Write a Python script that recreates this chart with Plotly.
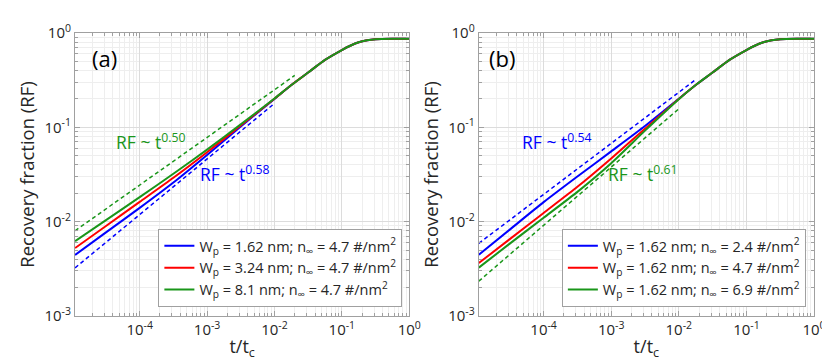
import plotly.graph_objects as go

# time grid (t/t_c) shared by all curves
t = [1.1e-5, 3.16e-5, 1e-4, 3.16e-4, 1e-3, 3.16e-3, 1e-2, 1.78e-2, 3.16e-2, 5.62e-2,
     0.1, 0.133, 0.178, 0.237, 0.316, 0.562, 1.0]

# panel (a): varying W_p
rf_a_blue = [0.00443, 0.00770, 0.0140, 0.0260, 0.0510, 0.1020, 0.200, 0.281, 0.381, 0.519,
             0.660, 0.733, 0.798, 0.836, 0.857, 0.867, 0.868]
rf_a_red = [0.00525, 0.00900, 0.0162, 0.0292, 0.0545, 0.1045, 0.201, 0.281, 0.381, 0.519,
            0.660, 0.733, 0.798, 0.836, 0.857, 0.867, 0.868]
rf_a_green = [0.00622, 0.0104, 0.0182, 0.0322, 0.0580, 0.1075, 0.202, 0.281, 0.381, 0.519,
              0.660, 0.733, 0.798, 0.836, 0.857, 0.867, 0.868]

# panel (b): varying n_inf
rf_b_blue = [0.00446, 0.00824, 0.0161, 0.0301, 0.0556, 0.1032, 0.201, 0.281, 0.381, 0.519,
             0.660, 0.733, 0.798, 0.836, 0.857, 0.867, 0.868]
rf_b_red = [0.00364, 0.00653, 0.01236, 0.0234, 0.0468, 0.0966, 0.200, 0.281, 0.381, 0.519,
            0.660, 0.733, 0.798, 0.836, 0.857, 0.867, 0.868]
rf_b_green = [0.00326, 0.00585, 0.0110, 0.0207, 0.0417, 0.0923, 0.199, 0.281, 0.381, 0.519,
              0.660, 0.733, 0.798, 0.836, 0.857, 0.867, 0.868]

# power-law fits (dashed)
fit_a_blue_t, fit_a_blue_rf = [1.1e-5, 9.5e-3], [0.00324, 0.174]
fit_a_green_t, fit_a_green_rf = [1.1e-5, 0.020], [0.00801, 0.355]
fit_b_blue_t, fit_b_blue_rf = [1.1e-5, 0.0182], [0.00589, 0.325]
fit_b_green_t, fit_b_green_rf = [1.1e-5, 0.0105], [0.00234, 0.162]

labels_a = ["W<sub>p</sub> = 1.62 nm; n<sub>∞</sub> = 4.7 #/nm<sup>2</sup>",
            "W<sub>p</sub> = 3.24 nm; n<sub>∞</sub> = 4.7 #/nm<sup>2</sup>",
            "W<sub>p</sub> = 8.1 nm; n<sub>∞</sub> = 4.7 #/nm<sup>2</sup>"]
labels_b = ["W<sub>p</sub> = 1.62 nm; n<sub>∞</sub> = 2.4 #/nm<sup>2</sup>",
            "W<sub>p</sub> = 1.62 nm; n<sub>∞</sub> = 4.7 #/nm<sup>2</sup>",
            "W<sub>p</sub> = 1.62 nm; n<sub>∞</sub> = 6.9 #/nm<sup>2</sup>"]

x_ticks = [1e-4, 1e-3, 1e-2, 1e-1, 1]
x_ticktext = ["10<sup>-4</sup>", "10<sup>-3</sup>", "10<sup>-2</sup>", "10<sup>-1</sup>", "10<sup>0</sup>"]
y_ticks = [1e-3, 1e-2, 1e-1, 1]
y_ticktext = ["10<sup>-3</sup>", "10<sup>-2</sup>", "10<sup>-1</sup>", "10<sup>0</sup>"]

BLUE, RED, GREEN = "#0000ff", "#ff0000", "#1a961a"
FONT = "Open Sans"

fig = go.Figure()

for xa, ya, leg, series, fits in [
    ("x", "y", "legend", [(rf_a_blue, BLUE, labels_a[0]), (rf_a_red, RED, labels_a[1]), (rf_a_green, GREEN, labels_a[2])],
     [(fit_a_blue_t, fit_a_blue_rf, BLUE), (fit_a_green_t, fit_a_green_rf, GREEN)]),
    ("x2", "y2", "legend2", [(rf_b_blue, BLUE, labels_b[0]), (rf_b_red, RED, labels_b[1]), (rf_b_green, GREEN, labels_b[2])],
     [(fit_b_blue_t, fit_b_blue_rf, BLUE), (fit_b_green_t, fit_b_green_rf, GREEN)]),
]:
    for ft, frf, c in fits:
        fig.add_trace(go.Scatter(x=ft, y=frf, mode="lines", xaxis=xa, yaxis=ya, showlegend=False,
                                 line=dict(color=c, width=1.5, dash="4px,3px")))
    for rf, c, name in series:
        fig.add_trace(go.Scatter(x=t, y=rf, mode="lines", xaxis=xa, yaxis=ya, name=name, legend=leg,
                                 line=dict(color=c, width=2, shape="spline", smoothing=0.6)))

minor_x = [m * 10 ** e for e in range(-5, 0) for m in range(2, 10)]
minor_y = [m * 10 ** e for e in range(-3, 0) for m in range(2, 10)]

axis_common = dict(type="log", showline=True, linecolor="#a0a0a0", linewidth=1, mirror="allticks",
                   ticks="inside", ticklen=5, tickcolor="#a0a0a0", showgrid=True, gridcolor="#dcdcdc",
                   zeroline=False, tickfont=dict(size=15, color="#262626", family=FONT),
                   tickmode="array")
minor_common = dict(showgrid=True, gridcolor="#eeeeee", ticks="inside", ticklen=3, tickcolor="#a0a0a0")

xdef = dict(axis_common, range=[-4.96, 0], tickvals=x_ticks, ticktext=x_ticktext,
            minor=dict(minor_common, tickvals=minor_x),
            title=dict(text="t/t<sub>c</sub>", font=dict(size=18, color="#262626", family=FONT), standoff=2))
ydef = dict(axis_common, range=[-3, 0], tickvals=y_ticks, ticktext=y_ticktext,
            minor=dict(minor_common, tickvals=minor_y),
            title=dict(text="Recovery fraction (RF)", font=dict(size=18.5, color="#262626", family=FONT), standoff=4))

legend_common = dict(bgcolor="white", bordercolor="#a0a0a0", borderwidth=1, xanchor="right", yanchor="bottom",
                     font=dict(size=14.5, color="#262626", family=FONT), itemwidth=30, tracegroupgap=0)

fig.update_layout(
    width=830, height=364, margin=dict(l=67, r=18, t=25, b=56),
    paper_bgcolor="white", plot_bgcolor="white", font=dict(family=FONT),
    xaxis=dict(xdef, domain=[0, 0.4523], anchor="y"),
    yaxis=dict(ydef, domain=[0, 1], anchor="x"),
    xaxis2=dict(xdef, domain=[0.5463, 1], anchor="y2"),
    yaxis2=dict(ydef, domain=[0, 1], anchor="x2"),
    legend=dict(legend_common, x=0.443, y=0.032),
    legend2=dict(legend_common, x=0.989, y=0.032),
    showlegend=True,
)

ann = [
    ("x", "y", -4.52, -0.265, "(a)", "black", 22),
    ("x", "y", -3.84, -1.15, "RF ~ t<sup>0.50</sup>", GREEN, 17.5),
    ("x", "y", -2.60, -1.49, "RF ~ t<sup>0.58</sup>", BLUE, 17.5),
    ("x2", "y2", -4.62, -0.265, "(b)", "black", 22),
    ("x2", "y2", -3.81, -1.15, "RF ~ t<sup>0.54</sup>", BLUE, 17.5),
    ("x2", "y2", -2.54, -1.49, "RF ~ t<sup>0.61</sup>", GREEN, 17.5),
]
for xr, yr, ax_, ay_, txt, col, sz in ann:
    fig.add_annotation(xref=xr, yref=yr, x=ax_, y=ay_, text=txt, showarrow=False,
                       font=dict(size=sz, color=col, family=FONT))

fig.write_html("out.html")
